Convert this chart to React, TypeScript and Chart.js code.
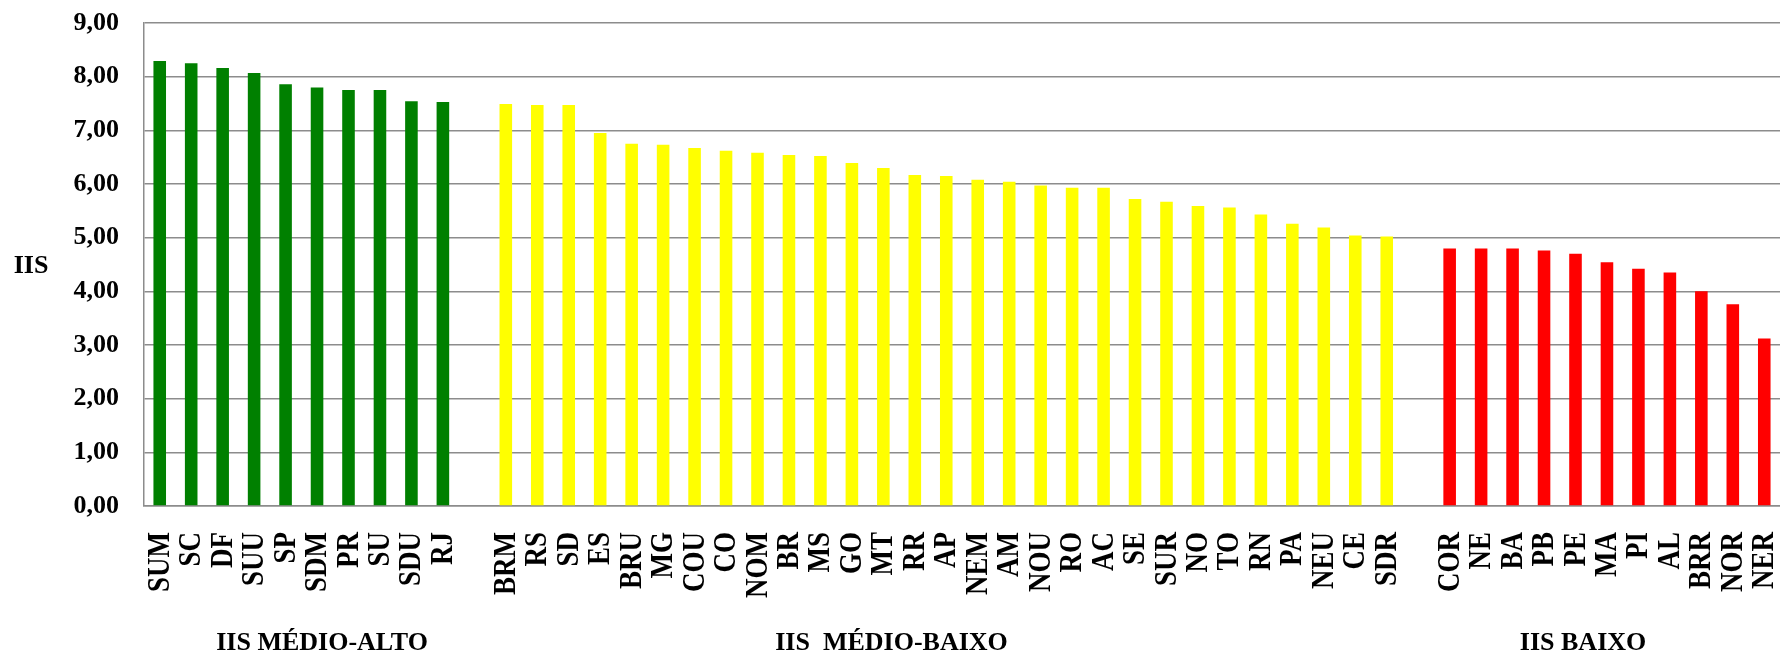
import React, { useEffect, useRef } from "react";
import { Chart, registerables } from "chart.js";

Chart.register(...registerables);

const greenLabels = ["SUM", "SC", "DF", "SUU", "SP", "SDM", "PR", "SU", "SDU", "RJ"];
const greenValues = [8.29, 8.25, 8.16, 8.07, 7.86, 7.8, 7.75, 7.75, 7.54, 7.53];

const yellowLabels = [
  "BRM", "RS", "SD", "ES", "BRU", "MG", "COU", "CO", "NOM", "BR", "MS", "GO", "MT", "RR", "AP",
  "NEM", "AM", "NOU", "RO", "AC", "SE", "SUR", "NO", "TO", "RN", "PA", "NEU", "CE", "SDR",
];
const yellowValues = [
  7.49, 7.47, 7.47, 6.95, 6.75, 6.73, 6.67, 6.62, 6.58, 6.54, 6.52, 6.39, 6.3, 6.17, 6.15,
  6.08, 6.04, 5.97, 5.93, 5.93, 5.72, 5.67, 5.59, 5.56, 5.43, 5.26, 5.19, 5.04, 5.02,
];

const redLabels = ["COR", "NE", "BA", "PB", "PE", "MA", "PI", "AL", "BRR", "NOR", "NER"];
const redValues = [4.8, 4.8, 4.8, 4.76, 4.7, 4.54, 4.42, 4.35, 4.0, 3.76, 3.12];

const groupTitles = ["IIS MÉDIO-ALTO", "IIS  MÉDIO-BAIXO", "IIS BAIXO"];
const yTitle = "IIS";

const FONT = "'Liberation Serif', 'Times New Roman', serif";

export default function App() {
  const ref = useRef<HTMLCanvasElement | null>(null);

  useEffect(() => {
    const canvas = ref.current;
    if (!canvas) return;

    const labels = [...greenLabels, "", ...yellowLabels, "", ...redLabels];
    const total = labels.length;
    const pad = (arr: number[], before: number) => {
      const out: (number | null)[] = new Array(total).fill(null);
      arr.forEach((v, i) => (out[before + i] = v));
      return out;
    };
    const gStart = 0;
    const yStart = greenLabels.length + 1;
    const rStart = yStart + yellowLabels.length + 1;

    // label anchors (fractional category positions)
    const titleAt = [5.16, 23.26, 45.24];

    const overlay = {
      id: "overlay",
      afterDraw(chart: any) {
        const { ctx, chartArea, scales } = chart;
        const xs = scales.x;
        ctx.save();
        ctx.fillStyle = "#000";
        // rotated category labels (slightly stretched like the original)
        ctx.font = `bold 27px ${FONT}`;
        ctx.textAlign = "right";
        ctx.textBaseline = "middle";
        labels.forEach((lab, i) => {
          if (!lab) return;
          const x = xs.getPixelForTick(i);
          ctx.save();
          ctx.translate(x + 1, chartArea.bottom + 26);
          ctx.rotate(-Math.PI / 2);
          ctx.scale(1, 1.15);
          ctx.fillText(lab, 0, 0);
          ctx.restore();
        });
        ctx.font = `bold 26px ${FONT}`;
        ctx.textAlign = "center";
        ctx.textBaseline = "middle";
        ctx.fillText(yTitle, 31, (chartArea.top + chartArea.bottom) / 2 + 2);
        ctx.textBaseline = "alphabetic";
        groupTitles.forEach((t, i) => {
          const x = xs.getPixelForValue(titleAt[i]);
          ctx.fillText(t, x, 650);
        });
        ctx.restore();
      },
    };

    const chart = new Chart(canvas, {
      type: "bar",
      data: {
        labels,
        datasets: [
          { data: pad(greenValues, gStart), backgroundColor: "#008000" },
          { data: pad(yellowValues, yStart), backgroundColor: "#FFFF00" },
          { data: pad(redValues, rStart), backgroundColor: "#FF0000" },
        ],
      },
      options: {
        responsive: false,
        animation: false,
        layout: { padding: { top: 23, left: 0, right: 0, bottom: 0 } },
        datasets: {
          bar: { grouped: false, barPercentage: 0.4, categoryPercentage: 1.0 },
        },
        plugins: {
          legend: { display: false },
          tooltip: { enabled: false },
          title: { display: false },
        },
        scales: {
          x: {
            offset: true,
            grid: { display: false, drawTicks: false },
            border: { display: true, color: "#8c8c8c", width: 1.5 },
            ticks: {
              autoSkip: false,
              minRotation: 90,
              maxRotation: 90,
              padding: 26,
              color: "rgba(0,0,0,0)",
              font: { family: FONT, size: 26, weight: "bold" },
            },
            afterFit(scale: any) {
              scale.height = 149;
              scale.paddingLeft = 0;
              scale.paddingRight = 0;
            },
          },
          y: {
            min: 0,
            max: 9,
            grid: { color: "#8c8c8c", lineWidth: 1.5, drawTicks: false },
            border: { display: true, color: "#8c8c8c", width: 1.5 },
            ticks: {
              stepSize: 1,
              padding: 25,
              color: "#000",
              font: { family: FONT, size: 26, weight: "bold" },
              callback: (v: any) => Number(v).toFixed(2).replace(".", ","),
            },
            afterFit(scale: any) {
              scale.width = 144;
              scale.paddingTop = 0;
              scale.paddingBottom = 0;
            },
          },
        },
      },
      plugins: [overlay],
    });

    return () => chart.destroy();
  }, []);

  return (
    <div style={{ position: "fixed", left: 0, top: 0, width: 1780, height: 655, background: "#fff" }}>
      <canvas ref={ref} width={1780} height={655} style={{ display: "block" }} />
    </div>
  );
}
